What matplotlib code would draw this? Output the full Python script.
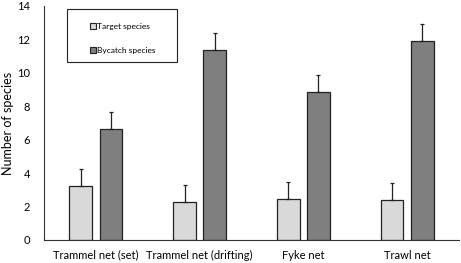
import numpy as np
import matplotlib.pyplot as plt
from matplotlib.patches import Patch, Rectangle

categories = ["Trammel net (set)", "Trammel net (drifting)", "Fyke net", "Trawl net"]
target = [3.25, 2.27, 2.47, 2.38]
target_err = [1.0, 1.0, 1.02, 1.03]
bycatch = [6.67, 11.36, 8.86, 11.93]
bycatch_err = [1.01, 1.0, 1.04, 1.0]

plt.rcParams['font.family'] = ['Lato', 'DejaVu Sans']

fig = plt.figure(figsize=(4.61, 2.63), dpi=100)
ax = fig.add_axes([44/461, 23/263, 415/461, 234/263])

x = np.arange(len(categories))
w = 0.22
off = 0.145
ax.bar(x - off, target, w, color="#d9d9d9", edgecolor="#222222", linewidth=0.9,
       yerr=[[0]*4, target_err], error_kw=dict(ecolor="#222222", elinewidth=0.9, capsize=1.5, capthick=0.9),
       zorder=2)
ax.bar(x + off, bycatch, w, color="#7f7f7f", edgecolor="#222222", linewidth=0.9,
       yerr=[[0]*4, bycatch_err], error_kw=dict(ecolor="#222222", elinewidth=0.9, capsize=1.5, capthick=0.9),
       zorder=2)

ax.set_xlim(-0.5, 3.5)
ax.set_ylim(0, 14)
ax.set_yticks(range(0, 15, 2))
ax.set_xticks(x)
ax.set_xticklabels(categories, fontsize=8)
ax.tick_params(axis='y', labelsize=8, length=0, pad=10)
ax.tick_params(axis='x', length=0, pad=7)
ax.spines['top'].set_visible(False)
ax.spines['right'].set_visible(False)
ax.spines['left'].set_color("#333333")
ax.spines['bottom'].set_color("#333333")
ax.set_ylabel("Number of species", fontsize=9, labelpad=2)

# legend frame drawn separately so entries sit centred in a wide box
ax.add_patch(Rectangle((0.056, 0.762), 0.265, 0.225, transform=ax.transAxes,
                       facecolor="white", edgecolor="#222222", linewidth=0.8, zorder=3))
handles = [Patch(facecolor="#d9d9d9", edgecolor="#222222", linewidth=0.8),
           Patch(facecolor="#7f7f7f", edgecolor="#222222", linewidth=0.8)]
leg = ax.legend(handles, ["Target species", "Bycatch species"], loc="center",
                bbox_to_anchor=(0.19, 0.862), fontsize=6, frameon=False,
                handlelength=0.7, handleheight=0.7, handletextpad=0.2,
                labelspacing=2.0, borderpad=0, borderaxespad=0)
leg.set_zorder(4)

fig.savefig("out.png", dpi=100)
